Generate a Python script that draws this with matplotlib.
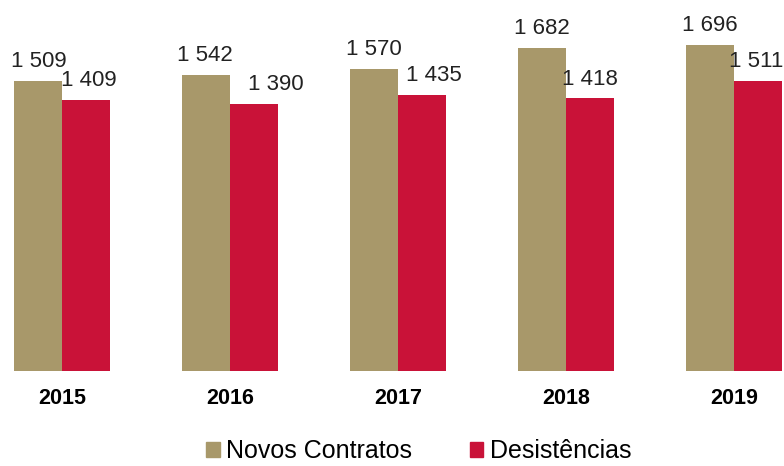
import numpy as np
import matplotlib.pyplot as plt
from matplotlib.patches import Patch

plt.rcParams['font.family'] = ['Liberation Sans', 'DejaVu Sans']

# data
years = ['2015', '2016', '2017', '2018', '2019']
novos = [1509, 1542, 1570, 1682, 1696]
desist = [1409, 1390, 1435, 1418, 1511]

# manual label nudges (px) as in the source slide
novos_dx = [1, -1, 0, 0, 0]
desist_dx = [3, 22, 12, 0, -2]

tan = '#A8986A'
red = '#C91238'

fig = plt.figure(figsize=(7.84, 4.66), dpi=100)
ax = fig.add_axes([0, 95 / 466, 1, 371 / 466])

x = np.arange(len(years))
w = 48 / 168
ax.bar(x - w / 2, novos, w, color=tan, label='Novos Contratos')
ax.bar(x + w / 2, desist, w, color=red, label='Desistências')

for i in range(len(years)):
    ax.annotate(f'{novos[i]:,}'.replace(',', ' '), (x[i] - w / 2, novos[i]),
                xytext=(novos_dx[i] * 0.72, 10), textcoords='offset points',
                ha='center', va='baseline', fontsize=16, color='#222222')
    ax.annotate(f'{desist[i]:,}'.replace(',', ' '), (x[i] + w / 2, desist[i]),
                xytext=(desist_dx[i] * 0.72, 10), textcoords='offset points',
                ha='center', va='baseline', fontsize=16, color='#222222')

ax.set_xlim(-62 / 168, 722 / 168)
ax.set_ylim(0, 371 / 0.1922)
ax.set_xticks(x)
ax.set_xticklabels(years, fontsize=15.5, fontweight='bold')
ax.tick_params(length=0, pad=12)
ax.set_yticks([])
for s in ax.spines.values():
    s.set_visible(False)

handles = [Patch(color=tan), Patch(color=red)]
fig.legend(handles, ['Novos Contratos', 'Desistências'], loc='center',
           bbox_to_anchor=(0.534, 0.032), ncol=2, frameon=False, fontsize=18,
           handlelength=0.55, handleheight=0.55, handletextpad=0.25,
           columnspacing=2.3, borderpad=0)

fig.savefig('out.png', dpi=100)
